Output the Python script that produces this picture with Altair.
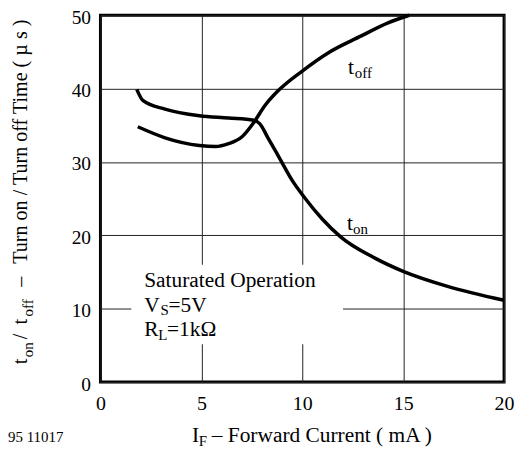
import altair as alt
import pandas as pd

# t_on curve (µs) vs forward current (mA)
ton_x = [1.8, 2.1, 3.2, 4.9, 6.35, 7.6, 7.9, 8.3, 8.9, 9.5, 10.1, 11.0, 11.9, 13.6, 15.0, 17.2, 20.0]
ton_y = [39.9, 38.4, 37.2, 36.3, 36.0, 35.7, 35.2, 33.3, 30.4, 27.5, 25.2, 22.2, 19.8, 16.9, 15.1, 13.05, 11.15]
# t_off curve
toff_x = [1.85, 3.2, 4.9, 5.7, 6.35, 7.0, 7.6, 8.15, 8.8, 10.0, 11.3, 12.9, 14.25, 15.3]
toff_y = [34.8, 33.3, 32.25, 32.1, 32.5, 33.4, 35.4, 37.7, 39.7, 42.4, 44.9, 47.15, 48.96, 50.0]

x_ticks = [0, 5, 10, 15, 20]
y_ticks = [0, 10, 20, 30, 40, 50]

# annotation box (data units)
box_x = [1.53]
box_x2 = [12.02]
box_y = [16.0]
box_y2 = [5.15]

# annotation texts (data units)
main_txt = ["t", "t", "Saturated Operation", "V", "=5V", "R", "=1kΩ"]
main_x = [12.27, 12.22, 2.17, 2.17, 3.37, 2.17, 3.30]
main_y = [42.0, 20.7, 13.0, 9.62, 9.62, 6.23, 6.23]
sub_txt = ["off", "on", "S", "L"]
sub_x = [12.60, 12.52, 2.98, 2.86]
sub_y = [41.5, 20.2, 9.08, 5.69]

FONT = "Liberation Serif"

curves = pd.DataFrame({
    "I": ton_x + toff_x,
    "t": ton_y + toff_y,
    "s": ["on"] * len(ton_x) + ["off"] * len(toff_x),
})

xs = alt.Scale(domain=[0, 20], nice=False)
ys = alt.Scale(domain=[0, 50], nice=False)

axis_common = dict(title=None, grid=True, ticks=False, domain=False, labelFont=FONT,
                   labelColor="black", labelFlush=False,
                   gridColor="#222", gridWidth=1)

base_axes = alt.Chart(pd.DataFrame({"I": [0], "t": [0]})).mark_point(opacity=0).encode(
    x=alt.X("I:Q", scale=xs, axis=alt.Axis(values=x_ticks, labelPadding=12, labelFontSize=20,
                                           **axis_common)),
    y=alt.Y("t:Q", scale=ys, axis=alt.Axis(values=y_ticks, labelPadding=10, labelOffset=2,
                                           labelFontSize=19.5, **axis_common)),
)

box = alt.Chart(pd.DataFrame({"x": box_x, "x2": box_x2, "y": box_y, "y2": box_y2})).mark_rect(
    color="white").encode(
    x=alt.X("x:Q", scale=xs), x2="x2:Q", y=alt.Y("y:Q", scale=ys), y2="y2:Q")

lines = alt.Chart(curves).mark_line(color="black", strokeWidth=3.5, interpolate="monotone").encode(
    x=alt.X("I:Q", scale=xs), y=alt.Y("t:Q", scale=ys), detail="s:N")

main_t = alt.Chart(pd.DataFrame({"x": main_x, "y": main_y, "txt": main_txt})).mark_text(
    font=FONT, fontSize=21.5, align="left", baseline="alphabetic", color="black").encode(
    x=alt.X("x:Q", scale=xs), y=alt.Y("y:Q", scale=ys), text="txt:N")

sub_t = alt.Chart(pd.DataFrame({"x": sub_x, "y": sub_y, "txt": sub_txt})).mark_text(
    font=FONT, fontSize=15, align="left", baseline="alphabetic", color="black").encode(
    x=alt.X("x:Q", scale=xs), y=alt.Y("y:Q", scale=ys), text="txt:N")

# axis titles built from segments (pixel offsets relative to plot area)
xt_txt = ["I", "F", "– Forward Current ( mA )", "95 11017"]
xt_px = [92, 99, 112, -93]
xt_py = [429, 433, 429, 429]
xt_size = [21.5, 15, 21.5, 15]
xtitle = alt.Chart(pd.DataFrame({"txt": xt_txt, "px": xt_px, "py": xt_py, "sz": xt_size})).mark_text(
    font=FONT, align="left", baseline="alphabetic", color="black").encode(
    x=alt.X("px:Q", scale=None), y=alt.Y("py:Q", scale=None), text="txt:N",
    size=alt.Size("sz:Q", scale=None))

yt_txt = ["t", "on", "/", "t", "off", "–", "Turn on / Turn off Time ( µ s )"]
yt_px = [-74, -68, -74, -74, -68, -74, -74]
yt_py = [351, 344, 326, 311, 303, 273, 250]
yt_size = [20.2, 15, 20.2, 20.2, 15, 20.2, 20.2]
ytitle = alt.Chart(pd.DataFrame({"txt": yt_txt, "px": yt_px, "py": yt_py, "sz": yt_size})).mark_text(
    font=FONT, align="left", baseline="alphabetic", color="black", angle=270).encode(
    x=alt.X("px:Q", scale=None), y=alt.Y("py:Q", scale=None), text="txt:N",
    size=alt.Size("sz:Q", scale=None))

chart = alt.layer(base_axes, box, lines, main_t, sub_t, xtitle, ytitle).properties(
    width=406, height=369,
    autosize=alt.AutoSizeParams(type="none"),
    padding={"left": 93, "top": 6, "right": 11, "bottom": 66},
).configure_view(stroke="black", strokeWidth=3)

chart.save("out.html", embed_options={"renderer": "svg", "actions": False})
